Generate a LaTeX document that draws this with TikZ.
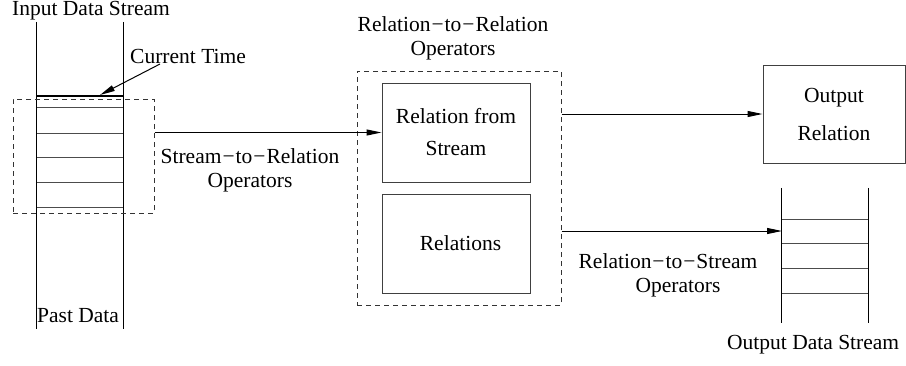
\documentclass[tikz,border=0pt]{standalone}
\usepackage{fontspec}
\setmainfont{Liberation Serif}
\newfontfamily\figserif{Liberation Serif}
\usetikzlibrary{arrows.meta}
\begin{document}
\begin{tikzpicture}[x=1pt,y=-1pt,
  txt/.style={font=\figserif\fontsize{21.5}{24}\selectfont, inner sep=0pt},
  solidbox/.style={draw=black!75, line width=1pt, inner sep=0pt, align=center, font=\figserif\fontsize{21.5}{24}\selectfont},
  dbox/.style={draw=black!80, dash pattern=on 5pt off 4pt, line width=1pt, inner sep=0pt},
  arr/.style={line width=1pt, -{Triangle[length=15pt,width=6pt]}},
  slot/.style={line width=1pt, draw=black!70},
  rail/.style={line width=1pt},
  region/.style={inner sep=0pt}]
\useasboundingbox (0,0) rectangle (906,365);

% input stream
\node[region, minimum width=86pt, minimum height=307pt] (instream) at (80,175.5) {};
\draw[rail] (instream.north west) -- (instream.south west);
\draw[rail] (instream.north east) -- (instream.south east);
\draw[line width=2.5pt] (37,96) -- (123,96);
\foreach \yy in {107,133,157,182,207} \draw[slot] (37,\yy) -- (123,\yy);
\node[txt, anchor=base west] (inlabel) at (12,15) {Input Data Stream};
\node[txt, anchor=base west] (pastlabel) at (37,322) {Past Data};
\node[txt, anchor=base west] (ct) at (130,63) {Current Time};
\coordinate (cts) at (160,64);
\coordinate (ctip) at (100,95);
\draw[arr] (cts) -- (ctip);

% window
\node[dbox, minimum width=141pt, minimum height=114pt] (s2rwin) at (83.5,156) {};
\node[txt, align=center] (s2rlabel) at (250,170) {Stream\kern1pt−\kern1pt to\kern1pt−\kern1pt Relation\\Operators};

% relation-to-relation operators
\node[dbox, minimum width=204pt, minimum height=234pt] (r2r) at (459,188) {};
\node[txt, align=center] (r2rlabel) at (453,38) {Relation\kern1pt−\kern1pt to\kern1pt−\kern1pt Relation\\Operators};
\node[solidbox, minimum width=148pt, minimum height=99pt] (rfs) at (456,132.5) {Relation from\\[8pt]Stream};
\node[solidbox, minimum width=148pt, minimum height=99pt] (rels) at (456,243.5) {\hspace*{9pt}Relations};

% output relation
\node[solidbox, minimum width=142pt, minimum height=98pt] (outrel) at (834,114) {Output\\[14pt]Relation};

% output stream
\node[region, minimum width=86pt, minimum height=135pt] (outstream) at (825,255.5) {};
\draw[rail] (outstream.north west) -- (outstream.south west);
\draw[rail] (outstream.north east) -- (outstream.south east);
\foreach \yy in {219,243,268,293} \draw[slot] (782,\yy) -- (868,\yy);
\coordinate (osin) at (782,231);
\node[txt, align=center] (r2slabel) at (668,275) {Relation\kern1pt−\kern1pt to\kern1pt−\kern1pt Stream\\\hspace*{20pt}Operators};
\node[txt, anchor=base west] (outlabel) at (727,349) {Output Data Stream};

% connectors
\draw[arr] (rfs.west -| s2rwin.east) -- (rfs.west);
\draw[arr] (outrel.west -| r2r.east) -- (outrel.west);
\draw[arr] (osin -| r2r.east) -- (osin);
\end{tikzpicture}
\end{document}
